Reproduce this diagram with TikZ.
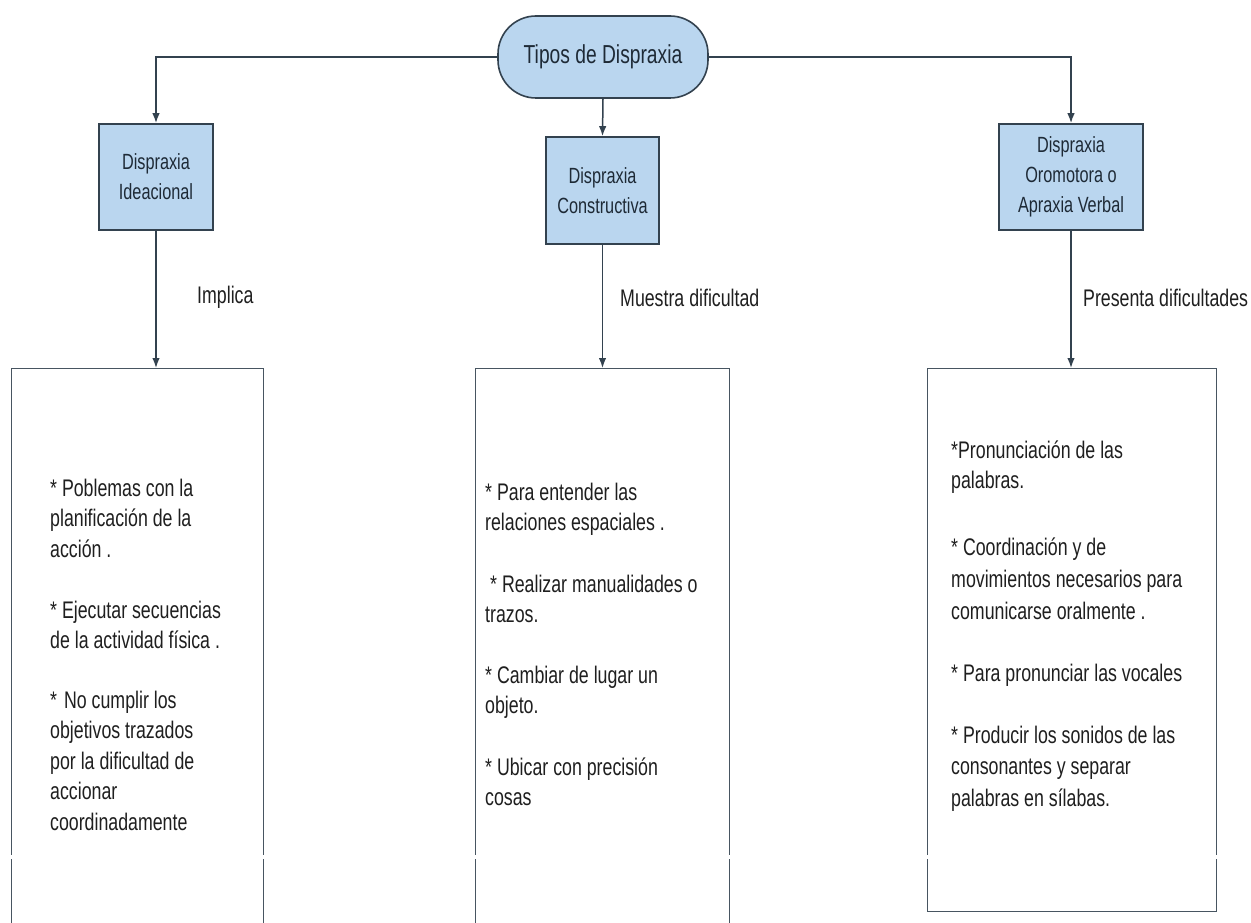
\documentclass[tikz,border=0pt]{standalone}
\usepackage{fontspec}
\newfontfamily\nf[FakeStretch=0.74]{Liberation Sans}
\usetikzlibrary{arrows.meta}
\definecolor{boxblue}{HTML}{BAD6EF}
\definecolor{edge}{HTML}{33424F}
\definecolor{txt}{HTML}{1E2A36}
\newcommand\tstrut{\rule{0pt}{19pt}}
\begin{document}
\begin{tikzpicture}[x=1pt,y=-1pt,
  conn/.style={draw=edge, line width=1.5pt, -{Latex[length=10pt,width=7.5pt]}},
  kind/.style={draw=edge, fill=boxblue, line width=1.6pt, align=center, font=\nf\fontsize{22}{30}\selectfont, text=txt, inner sep=0},
  panel/.style={draw=edge!90, line width=1.4pt, anchor=north west, inner sep=0},
  item/.style={anchor=north west, inner sep=0, align=left, font=\nf\fontsize{24}{30.5}\selectfont, text=black!88},
  lbl/.style={anchor=west, inner sep=0, font=\nf\fontsize{24}{30}\selectfont, text=black!88}]
\useasboundingbox (0,0) rectangle (1251,923);
\clip (0,0) rectangle (1251,923);
\fill[white] (0,0) rectangle (1251,923);

% top node
\node[kind, rounded corners=38pt, minimum width=210pt, minimum height=82pt, font=\nf\fontsize{26}{30}\selectfont] (top) at (603,57) {Tipos de Dispraxia};

% type boxes
\node[kind, minimum width=114pt, minimum height=106pt] (b1) at (156,177) {Dispraxia\\Ideacional};
\node[kind, minimum width=113pt, minimum height=107pt] (b2) at (602.5,190.5) {Dispraxia\\Constructiva};
\node[kind, minimum width=144pt, minimum height=106pt] (b3) at (1071,177) {Dispraxia\\Oromotora o\\Apraxia Verbal};

% panels
\node[panel, minimum width=252pt, minimum height=600pt] (c1) at (11,368) {};
\node[panel, minimum width=254pt, minimum height=600pt] (c2) at (475,368) {};
\node[panel, minimum width=289pt, minimum height=543pt] (c3) at (927,368) {};

% connectors
\draw[conn] (top.west) -| (b1.north);
\draw[conn] (top.east) -| (b3.north);
\draw[conn] (top.south) -- (b2.north);
\draw[conn] (b1.south) -- (b1.south |- c1.north);
\draw[conn] (b2.south) -- (b2.south |- c2.north);
\draw[conn] (b3.south) -- (b3.south |- c3.north);

% connector labels
\node[lbl] (l1) at (197,297) {Implica};
\node[lbl] (l2) at (620,298) {Muestra dificultad};
\node[lbl] (l3) at (1083,298) {Presenta dificultades};

% left panel text
\node[item] (i1) at (50,477) {\tstrut* Poblemas con la\\planificación de la\\acción .};
\node[item] (i2) at (50,599) {\tstrut* Ejecutar secuencias\\de la actividad física .};
\node[item] (i3) at (50,689) {\tstrut*\hspace*{7pt}No cumplir los\\objetivos trazados\\por la dificultad de\\accionar\\coordinadamente};

% middle panel text
\node[item] (j1) at (485,481) {\tstrut* Para entender las\\relaciones espaciales .};
\node[item] (j2) at (485,573) {\tstrut\hspace*{5pt}* Realizar manualidades o\\trazos.};
\node[item] (j3) at (485,664) {\tstrut* Cambiar de lugar un\\objeto.};
\node[item] (j4) at (485,756) {\tstrut* Ubicar con precisión\\cosas};

% right panel text
\node[item] (k1) at (951,439) {\tstrut*Pronunciación de las\\palabras.};
\node[item, font=\nf\fontsize{24}{32}\selectfont] (k2) at (951,536) {\tstrut* Coordinación y de\\movimientos necesarios para\\comunicarse oralmente .};
\node[item] (k3) at (951,662) {\tstrut* Para pronunciar las vocales};
\node[item, font=\nf\fontsize{24}{31.5}\selectfont] (k4) at (951,724) {\tstrut* Producir los sonidos de las\\consonantes y separar\\palabras en sílabas.};

% white gap strip
\fill[white] (0,855) rectangle (1251,859);
\end{tikzpicture}
\end{document}
